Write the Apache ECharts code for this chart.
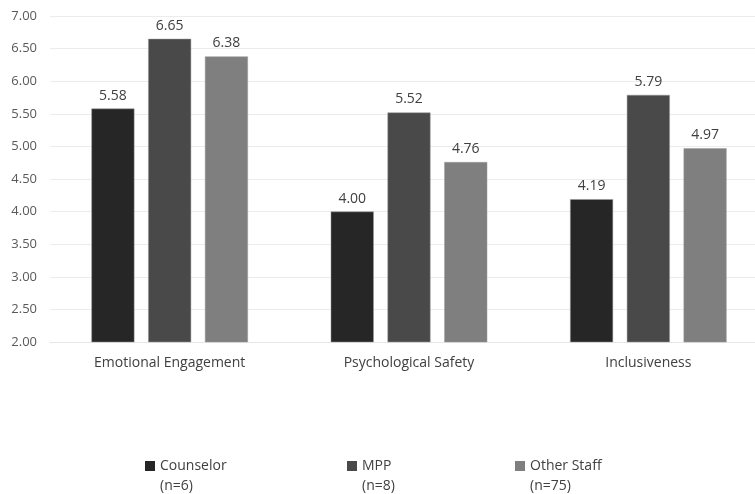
<!DOCTYPE html>
<html>
<head>
<meta charset="utf-8">
<script src="https://cdn.jsdelivr.net/npm/echarts@6/dist/echarts.min.js"></script>
<style>
  html, body { margin: 0; padding: 0; background: #ffffff; }
  #chart { width: 755px; height: 494px; }
</style>
</head>
<body>
<div id="chart"></div>
<script>
// Mean scores by staff group for each climate dimension
const categories = ['Emotional Engagement', 'Psychological Safety', 'Inclusiveness'];
const groupNames = ['Counselor\n(n=6)', 'MPP\n(n=8)', 'Other Staff\n(n=75)'];
const counselor = [5.58, 4.00, 4.19];
const mpp = [6.65, 5.52, 5.79];
const otherStaff = [6.38, 4.76, 4.97];
const groupColors = ['#262626', '#494949', '#7f7f7f'];

const FONT = '"Open Sans", sans-serif';
const seriesValues = [counselor, mpp, otherStaff];

const chart = echarts.init(document.getElementById('chart'), null, { renderer: 'canvas' });

const legendLeft = [145, 347, 515];
// square swatch at the top of a taller box, so it lines up with the first text line
const swatchPath = 'path://M0,0H10V10H0Z M0,29.99H0.01V30H0Z';

chart.setOption({
  animation: false,
  backgroundColor: '#ffffff',
  grid: {
    left: 50, top: 16, width: 718, height: 326,
    containLabel: false, outerBoundsMode: 'none'
  },
  xAxis: {
    type: 'category',
    data: categories,
    axisLine: { show: true, lineStyle: { color: '#e6e6e6' } },
    axisTick: { show: false },
    axisLabel: { color: '#404040', fontFamily: FONT, fontSize: 14, margin: 14 }
  },
  yAxis: {
    type: 'value',
    min: 2,
    max: 7,
    interval: 0.5,
    axisLine: { show: false },
    axisTick: { show: false },
    splitLine: { lineStyle: { color: '#ececec', width: 1 } },
    axisLabel: {
      color: '#595959', fontFamily: FONT, fontSize: 13, margin: 13,
      formatter: v => v.toFixed(2)
    }
  },
  legend: groupNames.map((name, i) => ({
    data: [name],
    left: legendLeft[i],
    top: 456,
    padding: 0,
    icon: swatchPath,
    itemWidth: 10,
    itemHeight: 30,
    itemStyle: { borderWidth: 0 },
    textStyle: { color: '#404040', fontFamily: FONT, fontSize: 14, lineHeight: 20 }
  })),
  series: seriesValues.map((vals, i) => ({
    name: groupNames[i],
    type: 'bar',
    data: vals,
    barWidth: 43,
    barGap: '32%',
    itemStyle: { color: groupColors[i], borderColor: '#9a9a9a', borderWidth: 0.5 },
    label: {
      show: true,
      position: 'top',
      distance: 6,
      color: '#404040',
      fontFamily: FONT,
      fontSize: 14,
      formatter: p => p.value.toFixed(2)
    }
  }))
});
</script>
</body>
</html>
